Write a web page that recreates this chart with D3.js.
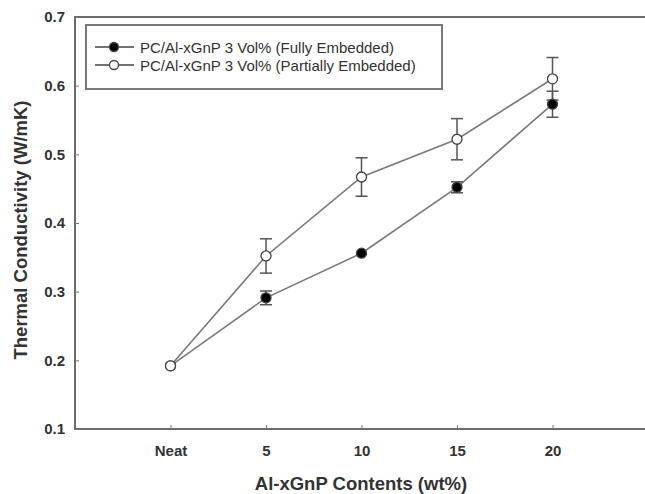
<!DOCTYPE html>
<html><head><meta charset="utf-8">
<script src="https://cdn.jsdelivr.net/npm/d3@7"></script>
<style>body{margin:0;background:#fff}svg{display:block}</style>
</head><body>
<svg id="c" width="645" height="494"></svg>
<script>
const categories = ["Neat", "5", "10", "15", "20"];
const fullyValues = [0.192, 0.291, 0.356, 0.452, 0.573];
const fullyErrors = [0.002, 0.010, 0.004, 0.008, 0.019];
const partialValues = [0.192, 0.352, 0.467, 0.522, 0.610];
const partialErrors = [0.002, 0.025, 0.028, 0.030, 0.031];
const yTicks = [0.1, 0.2, 0.3, 0.4, 0.5, 0.6, 0.7];
const seriesNames = ["PC/Al-xGnP 3 Vol% (Fully Embedded)", "PC/Al-xGnP 3 Vol% (Partially Embedded)"];

(function () {
const svg = d3.select("#c");
const pL = 75, pR = 648, pT = 17, pB = 429;
const x = d3.scaleLinear().domain([0, 6]).range([pL, pR]);
const y = d3.scaleLinear().domain([0.1, 0.7]).range([pB, pT]);
const gray = "#7a7a7a";
const font = "'Liberation Sans', Arial, sans-serif";

// frame
svg.append("rect").attr("x", pL).attr("y", pT).attr("width", pR - pL).attr("height", pB - pT)
  .attr("fill", "none").attr("stroke", "#6b6b6b").attr("stroke-width", 2);

// y axis
const yAxis = d3.axisLeft(y).tickValues(yTicks).tickFormat(d3.format(".1f")).tickSizeInner(-4).tickSizeOuter(0).tickPadding(10);
const gy = svg.append("g").attr("transform", `translate(${pL},0)`).call(yAxis);
gy.select(".domain").remove();
gy.selectAll(".tick line").attr("stroke", gray);
gy.selectAll("text").attr("font-family", font).attr("font-weight", "bold").attr("font-size", 15).attr("fill", "#333");

// x axis
const xAxis = d3.axisBottom(x).tickValues(categories.map((c, i) => i + 1)).tickFormat((d) => categories[d - 1]).tickSizeInner(-4).tickSizeOuter(0).tickPadding(16);
const gx = svg.append("g").attr("transform", `translate(0,${pB})`).call(xAxis);
gx.select(".domain").remove();
gx.selectAll(".tick line").attr("stroke", gray);
gx.selectAll("text").attr("font-family", font).attr("font-weight", "bold").attr("font-size", 15).attr("fill", "#333");

// axis titles
svg.append("text").attr("x", 361).attr("y", 490).attr("text-anchor", "middle")
  .attr("font-family", font).attr("font-weight", "bold").attr("font-size", 18.5).attr("fill", "#333")
  .text("Al-xGnP Contents (wt%)");
svg.append("text").attr("transform", `translate(27,${(pT + pB) / 2 + 7}) rotate(-90)`).attr("text-anchor", "middle")
  .attr("font-family", font).attr("font-weight", "bold").attr("font-size", 18.5).attr("fill", "#333")
  .text("Thermal Conductivity (W/mK)");

const series = [
  {values: fullyValues, errors: fullyErrors, fill: "#000"},
  {values: partialValues, errors: partialErrors, fill: "#fff"}
];
const line = d3.line().x((d, i) => x(i + 1)).y(d => y(d));

series.forEach(s => {
  svg.append("path").attr("d", line(s.values)).attr("fill", "none").attr("stroke", gray).attr("stroke-width", 1.6);
});
series.forEach(s => {
  const g = svg.append("g");
  s.values.forEach((v, i) => {
    const e = s.errors[i];
    if (e > 0.004) {
      const cx = x(i + 1);
      g.append("line").attr("x1", cx).attr("x2", cx).attr("y1", y(v - e)).attr("y2", y(v + e)).attr("stroke", "#555").attr("stroke-width", 1.5);
      [v - e, v + e].forEach(t => g.append("line").attr("x1", cx - 6).attr("x2", cx + 6).attr("y1", y(t)).attr("y2", y(t)).attr("stroke", "#555").attr("stroke-width", 1.5));
    }
  });
});
series.forEach(s => {
  svg.append("g").selectAll("circle").data(s.values).join("circle")
    .attr("cx", (d, i) => x(i + 1)).attr("cy", d => y(d)).attr("r", 5)
    .attr("fill", s.fill).attr("stroke", "#444").attr("stroke-width", 1.3);
});

// legend
const lg = svg.append("g");
lg.append("rect").attr("x", 86).attr("y", 25).attr("width", 356).attr("height", 64)
  .attr("fill", "#fff").attr("stroke", "#6b6b6b").attr("stroke-width", 1.8);
series.forEach((s, i) => {
  const ly = 47 + i * 18;
  lg.append("line").attr("x1", 95).attr("x2", 134).attr("y1", ly).attr("y2", ly).attr("stroke", "#444").attr("stroke-width", 1.5);
  lg.append("circle").attr("cx", 114).attr("cy", ly).attr("r", 4.5).attr("fill", s.fill).attr("stroke", "#444").attr("stroke-width", 1.3);
  lg.append("text").attr("x", 140).attr("y", ly + 5.5).attr("font-family", font).attr("font-size", 15).attr("fill", "#333").text(seriesNames[i]);
});
})();
</script>
</body></html>
